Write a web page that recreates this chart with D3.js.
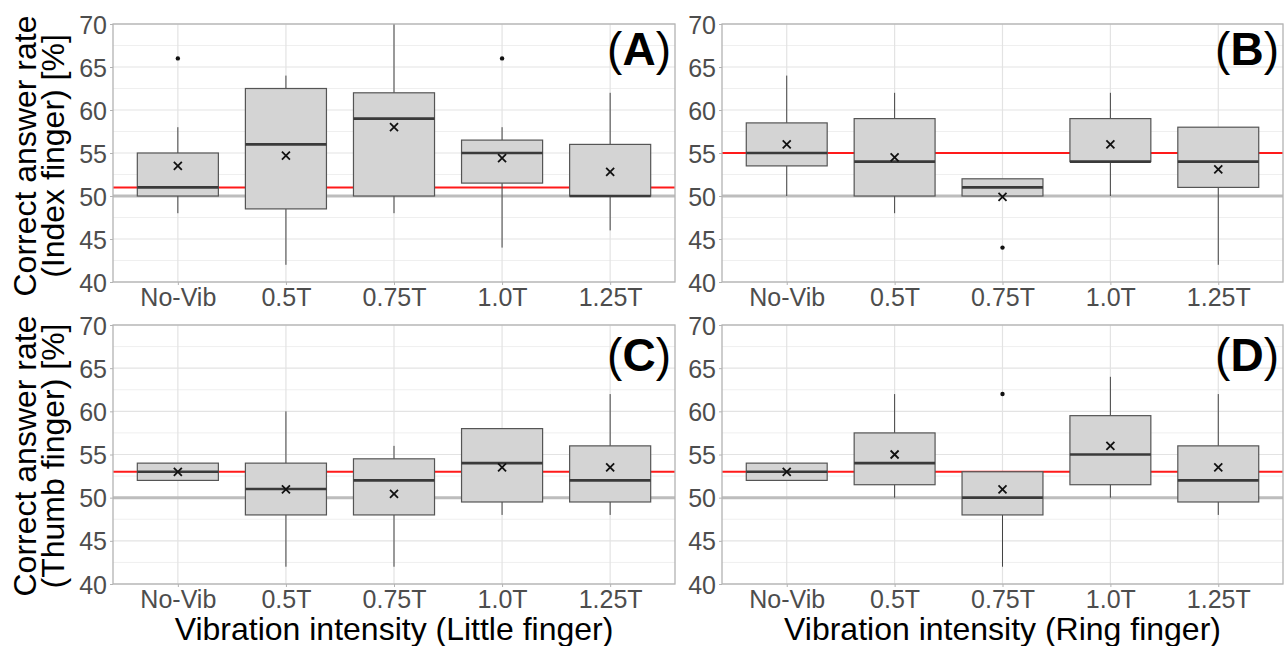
<!DOCTYPE html>
<html>
<head>
<meta charset="utf-8">
<script src="https://d3js.org/d3.v7.min.js"></script>
<style>
  body { margin: 0; background: white; }
  svg { display: block; font-family: "Liberation Sans", Arial, sans-serif; }
</style>
</head>
<body>
<svg id="chart" width="1288" height="646"></svg>
<script>
// categories and tick labels
var categories = ["No-Vib", "0.5T", "0.75T", "1.0T", "1.25T"];
var yTicks = [40, 45, 50, 55, 60, 65, 70];

// panel A (Index finger / Little finger vibration)
var aLow  = [48, 42, 48, 44, 46];
var aQ1   = [50, 48.5, 50, 51.5, 50];
var aMed  = [51, 56, 59, 55, 50];
var aQ3   = [55, 62.5, 62, 56.5, 56];
var aHigh = [58, 64, 70, 58, 62];
var aMean = [53.5, 54.7, 58, 54.4, 52.8];
var aOut  = [[66], [], [], [66], []];
var aRef  = 51;

// panel B (Index finger / Ring finger vibration)
var bLow  = [50, 48, 50, 50, 42];
var bQ1   = [53.5, 50, 50, 54, 51];
var bMed  = [55, 54, 51, 54, 54];
var bQ3   = [58.5, 59, 52, 59, 58];
var bHigh = [64, 62, 52, 62, 58];
var bMean = [56, 54.5, 49.9, 56, 53.1];
var bOut  = [[], [], [44], [], []];
var bRef  = 55;

// panel C (Thumb finger / Little finger vibration)
var cLow  = [52, 42, 42, 48, 48];
var cQ1   = [52, 48, 48, 49.5, 49.5];
var cMed  = [53, 51, 52, 54, 52];
var cQ3   = [54, 54, 54.5, 58, 56];
var cHigh = [54, 60, 56, 58, 62];
var cMean = [53, 50.95, 50.45, 53.5, 53.5];
var cOut  = [[], [], [], [], []];
var cRef  = 53;

// panel D (Thumb finger / Ring finger vibration)
var dLow  = [52, 50, 42, 50, 48];
var dQ1   = [52, 51.5, 48, 51.5, 49.5];
var dMed  = [53, 54, 50, 55, 52];
var dQ3   = [54, 57.5, 53, 59.5, 56];
var dHigh = [54, 62, 53, 64, 62];
var dMean = [53, 55, 50.95, 56, 53.5];
var dOut  = [[], [], [62], [], []];
var dRef  = 53;

var chance = 50;

var svg = d3.select("#chart");

function panel(opt) {
  var x = d3.scalePoint().domain(categories).range([opt.x0, opt.x1]).padding(0.6);
  var y = d3.scaleLinear().domain([40, 70]).range([opt.y1, opt.y0]);
  var bw = x.step() * 0.75;
  var g = svg.append("g");

  // minor grid
  g.selectAll(".minor").data([42.5, 47.5, 52.5, 57.5, 62.5, 67.5]).enter()
    .append("line")
    .attr("x1", opt.x0).attr("x2", opt.x1)
    .attr("y1", d => y(d)).attr("y2", d => y(d))
    .attr("stroke", "#efefef").attr("stroke-width", 1);
  // major grid
  g.selectAll(".majorY").data(yTicks).enter()
    .append("line")
    .attr("x1", opt.x0).attr("x2", opt.x1)
    .attr("y1", d => y(d)).attr("y2", d => y(d))
    .attr("stroke", "#e3e3e3").attr("stroke-width", 1.2);
  g.selectAll(".majorX").data(categories).enter()
    .append("line")
    .attr("x1", d => x(d)).attr("x2", d => x(d))
    .attr("y1", opt.y0).attr("y2", opt.y1)
    .attr("stroke", "#e3e3e3").attr("stroke-width", 1.2);

  // reference lines
  g.append("line")
    .attr("x1", opt.x0).attr("x2", opt.x1)
    .attr("y1", y(chance)).attr("y2", y(chance))
    .attr("stroke", "#bdbdbd").attr("stroke-width", 3);
  g.append("line")
    .attr("x1", opt.x0).attr("x2", opt.x1)
    .attr("y1", y(opt.ref)).attr("y2", y(opt.ref))
    .attr("stroke", "#ff1a1a").attr("stroke-width", 2);

  var rows = categories.map((c, i) => ({
    c: c, lo: opt.lo[i], q1: opt.q1[i], med: opt.med[i], q3: opt.q3[i],
    hi: opt.hi[i], mean: opt.mean[i], out: opt.out[i]
  }));

  var b = g.selectAll(".box").data(rows).enter().append("g");
  // whiskers
  b.append("line")
    .attr("x1", d => x(d.c)).attr("x2", d => x(d.c))
    .attr("y1", d => y(d.q3)).attr("y2", d => y(d.hi))
    .attr("stroke", "#444").attr("stroke-width", 1);
  b.append("line")
    .attr("x1", d => x(d.c)).attr("x2", d => x(d.c))
    .attr("y1", d => y(d.q1)).attr("y2", d => y(d.lo))
    .attr("stroke", "#444").attr("stroke-width", 1);
  // box
  b.append("rect")
    .attr("x", d => x(d.c) - bw / 2).attr("width", bw)
    .attr("y", d => y(d.q3)).attr("height", d => y(d.q1) - y(d.q3))
    .attr("fill", "#d4d4d4").attr("stroke", "#555").attr("stroke-width", 1.2);
  // median
  b.append("line")
    .attr("x1", d => x(d.c) - bw / 2).attr("x2", d => x(d.c) + bw / 2)
    .attr("y1", d => y(d.med)).attr("y2", d => y(d.med))
    .attr("stroke", "#3a3a3a").attr("stroke-width", 2.6);
  // outliers
  b.selectAll("circle").data(d => d.out.map(v => ({c: d.c, v: v}))).enter()
    .append("circle")
    .attr("cx", d => x(d.c)).attr("cy", d => y(d.v)).attr("r", 2.2)
    .attr("fill", "#111");
  // mean cross
  var s = 4;
  b.append("path")
    .attr("d", d => {
      var cx = x(d.c), cy = y(d.mean);
      return "M" + (cx - s) + "," + (cy - s) + "L" + (cx + s) + "," + (cy + s) +
             "M" + (cx - s) + "," + (cy + s) + "L" + (cx + s) + "," + (cy - s);
    })
    .attr("stroke", "#111").attr("stroke-width", 1.8).attr("fill", "none");

  // border
  g.append("rect")
    .attr("x", opt.x0).attr("y", opt.y0)
    .attr("width", opt.x1 - opt.x0).attr("height", opt.y1 - opt.y0)
    .attr("fill", "none").attr("stroke", "#b3b3b3").attr("stroke-width", 1.3);

  // axes
  var ya = g.append("g").attr("transform", "translate(" + opt.x0 + ",0)")
    .call(d3.axisLeft(y).tickValues(yTicks).tickSize(3).tickPadding(3).tickFormat(d3.format("d")));
  var xa = g.append("g").attr("transform", "translate(0," + opt.y1 + ")")
    .call(d3.axisBottom(x).tickSize(3).tickPadding(3));
  [ya, xa].forEach(a => {
    a.select(".domain").remove();
    a.selectAll(".tick line").attr("stroke", "#b3b3b3");
    a.selectAll(".tick text")
      .attr("fill", "#4d4d4d")
      .style("font-size", "25px")
      .style("font-family", "'Liberation Sans', Arial, sans-serif");
  });
  xa.selectAll(".tick text").attr("dy", "0.72em");
  ya.selectAll(".tick text").attr("dy", "0.36em");

  // panel tag
  var t = g.append("text")
    .attr("x", opt.x1 - 4).attr("y", opt.tagY)
    .attr("text-anchor", "end")
    .style("font-size", "46px").attr("fill", "#000");
  t.append("tspan").text("(");
  t.append("tspan").style("font-weight", "bold").text(opt.tag);
  t.append("tspan").text(")");

  return {x: x, y: y};
}

var L = [113, 675], R = [722, 1283], T = [24, 282], B = [325, 584];

panel({x0: L[0], x1: L[1], y0: T[0], y1: T[1], lo: aLow, q1: aQ1, med: aMed, q3: aQ3,
       hi: aHigh, mean: aMean, out: aOut, ref: aRef, tag: "A", tagY: 65});
panel({x0: R[0], x1: R[1], y0: T[0], y1: T[1], lo: bLow, q1: bQ1, med: bMed, q3: bQ3,
       hi: bHigh, mean: bMean, out: bOut, ref: bRef, tag: "B", tagY: 65});
panel({x0: L[0], x1: L[1], y0: B[0], y1: B[1], lo: cLow, q1: cQ1, med: cMed, q3: cQ3,
       hi: cHigh, mean: cMean, out: cOut, ref: cRef, tag: "C", tagY: 371});
panel({x0: R[0], x1: R[1], y0: B[0], y1: B[1], lo: dLow, q1: dQ1, med: dMed, q3: dQ3,
       hi: dHigh, mean: dMean, out: dOut, ref: dRef, tag: "D", tagY: 371});

// y titles
function yTitle(cy, line2) {
  var t = svg.append("text")
    .attr("transform", "translate(0," + cy + ") rotate(-90)")
    .attr("text-anchor", "middle")
    .style("font-size", "32px").attr("fill", "#000");
  t.append("tspan").attr("x", 0).attr("y", 36).text("Correct answer rate");
  t.append("tspan").attr("x", 0).attr("y", 64).text(line2);
}
yTitle(156, "(Index finger) [%]");
yTitle(456, "(Thumb finger) [%]");

// x titles
svg.append("text").attr("x", (L[0] + L[1]) / 2).attr("y", 640)
  .attr("text-anchor", "middle").style("font-size", "32px")
  .text("Vibration intensity (Little finger)");
svg.append("text").attr("x", (R[0] + R[1]) / 2).attr("y", 640)
  .attr("text-anchor", "middle").style("font-size", "32px")
  .text("Vibration intensity (Ring finger)");
</script>
</body>
</html>
